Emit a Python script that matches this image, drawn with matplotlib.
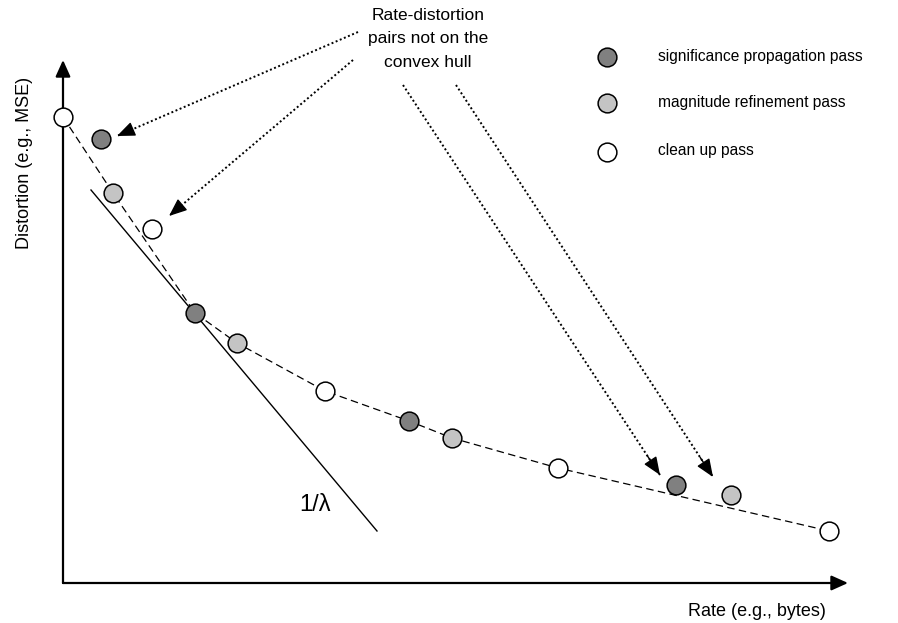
import matplotlib.pyplot as plt

plt.rcParams["font.family"] = ["Liberation Sans", "DejaVu Sans"]

# -----------------------------
# Rate-distortion pairs (arbitrary units)
# -----------------------------
rate = [0, 38, 50, 89, 132, 174, 262, 346, 389, 495, 613, 668, 766]
distortion = [466, 444, 390, 354, 270, 240, 192, 162, 145, 115, 98, 88, 52]
passes = ["clean", "sig", "mag", "clean", "sig", "mag", "clean",
          "sig", "mag", "clean", "sig", "mag", "clean"]

# pairs that lie on the convex hull
hull_idx = [0, 2, 4, 5, 6, 7, 8, 9, 12]

# tangent with slope 1/lambda
tangent_rate = [28, 314]
tangent_dist = [393, 52]

# points that are not on the hull (arrow targets)
off_hull_tips = [(54, 447), (106, 367), (597, 108), (650, 106)]
off_hull_starts = [(295, 551), (290, 523), (340, 498), (393, 498)]

pass_names = ["sig", "mag", "clean"]
pass_labels = ["significance propagation pass",
               "magnitude refinement pass",
               "clean up pass"]
pass_colors = {"sig": "#808080", "mag": "#c4c4c4", "clean": "white"}

AXIS_HEAD = "-|>,head_length=1.0,head_width=0.45"
HEAD = "-|>,head_length=1.1,head_width=0.45"

# -----------------------------
# Figure
# -----------------------------
fig = plt.figure(figsize=(8.98, 6.23), dpi=100)
ax = fig.add_axes([0, 0, 1, 1])
ax.set_xlim(-63, 835)
ax.set_ylim(-40, 583)
ax.axis("off")

# axes with arrow heads
ax.annotate("", xy=(0, 523), xytext=(0, 0),
            arrowprops=dict(arrowstyle=AXIS_HEAD, lw=1.6, color="black",
                            shrinkA=0, shrinkB=0))
ax.annotate("", xy=(785, 0), xytext=(0, 0),
            arrowprops=dict(arrowstyle=AXIS_HEAD, lw=1.6, color="black",
                            shrinkA=0, shrinkB=0))

# tangent line
ax.plot(tangent_rate, tangent_dist, color="black", lw=1.0, zorder=2)
ax.text(252, 78, "1/λ", fontsize=17, ha="center", va="center")

# convex hull (dashed)
ax.plot([rate[i] for i in hull_idx], [distortion[i] for i in hull_idx],
        color="black", lw=0.9, dashes=(6, 3.5), zorder=2)

# points
for r, d, p in zip(rate, distortion, passes):
    ax.plot(r, d, "o", ms=13.5, mfc=pass_colors[p], mec="black", mew=1.1, zorder=4)

# dotted arrows to pairs not on the hull (solid heads)
for (x0, y0), (x1, y1) in zip(off_hull_starts, off_hull_tips):
    ax.plot([x0, x1], [y0, y1], color="black", lw=1.4,
            linestyle=(0, (1, 1.3)), zorder=3)
    dx, dy = x1 - x0, y1 - y0
    ax.annotate("", xy=(x1, y1), xytext=(x1 - 0.05 * dx, y1 - 0.05 * dy),
                arrowprops=dict(arrowstyle=HEAD, lw=1.0, color="black",
                                shrinkA=0, shrinkB=0), zorder=3)

ax.text(365, 544, "Rate-distortion\npairs not on the\nconvex hull",
        fontsize=12.5, ha="center", va="center", linespacing=1.7)

# legend
legend_y = [526, 480, 431]
legend_text_y = [526, 480, 433]
for name, label, y, ty in zip(pass_names, pass_labels, legend_y, legend_text_y):
    ax.plot(544, y, "o", ms=13.5, mfc=pass_colors[name], mec="black", mew=1.1)
    ax.text(595, ty, label, fontsize=11.2, ha="left", va="center")

# axis labels
ax.text(694, -28, "Rate (e.g., bytes)", fontsize=13, ha="center", va="center")
ax.text(-38, 420, "Distortion (e.g., MSE)", fontsize=13, ha="center",
        va="center", rotation=90)

plt.savefig("out.png", dpi=100)
